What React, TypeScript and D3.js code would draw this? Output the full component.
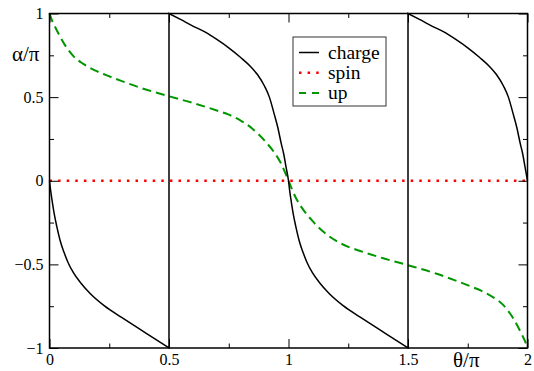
import React, { useEffect, useRef } from 'react';
import * as d3 from 'd3';

// Tick values
const xMajor = [0, 0.5, 1, 1.5, 2];
const xMinor = [0.25, 0.75, 1.25, 1.75];
const yMajor = [-1, -0.5, 0, 0.5, 1];
const yMinor = [-0.75, -0.25, 0.25, 0.75];

// charge (alpha/pi), drawn as three branches joined by the jumps at 0.5 and 1.5
const chargeX1 = [0, 0.005, 0.01, 0.02, 0.03, 0.045, 0.06, 0.078, 0.1, 0.13, 0.17, 0.23, 0.3, 0.4, 0.5];
const chargeY1 = [0, -0.06, -0.11, -0.2, -0.27, -0.36, -0.425, -0.49, -0.55, -0.61, -0.674, -0.748, -0.815, -0.908, -1];
const chargeX2 = [0.5, 0.55, 0.6, 0.65, 0.7, 0.75, 0.8, 0.84, 0.87, 0.9, 0.92, 0.94, 0.955, 0.97, 0.98, 0.99, 1.0,
  1.005, 1.01, 1.02, 1.03, 1.045, 1.06, 1.078, 1.1, 1.13, 1.17, 1.23, 1.3, 1.4, 1.5];
const chargeY2 = [1, 0.963, 0.925, 0.89, 0.845, 0.795, 0.737, 0.685, 0.635, 0.565, 0.5, 0.4, 0.32, 0.22, 0.16, 0.08, 0,
  -0.06, -0.11, -0.2, -0.27, -0.36, -0.425, -0.49, -0.55, -0.61, -0.674, -0.748, -0.815, -0.908, -1];
const chargeX3 = [1.5, 1.55, 1.6, 1.65, 1.7, 1.75, 1.8, 1.84, 1.87, 1.9, 1.92, 1.94, 1.955, 1.97, 1.98, 1.99, 2.0];
const chargeY3 = [1, 0.963, 0.925, 0.89, 0.845, 0.795, 0.737, 0.685, 0.635, 0.565, 0.5, 0.4, 0.32, 0.22, 0.16, 0.08, 0];

// spin
const spinX = [0, 2];
const spinY = [0, 0];

// up
const upX = [0, 0.01, 0.02, 0.045, 0.07, 0.1, 0.14, 0.19, 0.24, 0.3, 0.38, 0.5, 0.6, 0.7, 0.75, 0.8, 0.85, 0.9, 0.94, 0.97, 1.0,
  1.03, 1.06, 1.1, 1.15, 1.2, 1.25, 1.3, 1.4, 1.5, 1.62, 1.7, 1.76, 1.81, 1.86, 1.9, 1.93, 1.955, 1.98, 1.99, 2.0];
const upY = [1, 0.96, 0.93, 0.86, 0.8, 0.745, 0.7, 0.66, 0.63, 0.597, 0.556, 0.505, 0.465, 0.42, 0.395, 0.36, 0.31, 0.24, 0.17, 0.1, 0,
  -0.1, -0.17, -0.24, -0.31, -0.36, -0.395, -0.42, -0.465, -0.505, -0.556, -0.597, -0.63, -0.66, -0.7, -0.745, -0.8, -0.86, -0.93, -0.96, -1];

const legendNames = ['charge', 'spin', 'up'];

const W = 534;
const H = 371;
const FONT = "'Liberation Serif', serif";

const App = () => {
  const svgRef = useRef<SVGSVGElement>(null);

  useEffect(() => {
    const svg = d3.select(svgRef.current);
    svg.selectAll('*').remove();

    const left = 49.5, right = 527.5, top = 13.5, bottom = 348;

    const x = d3.scaleLinear().domain([0, 2]).range([left, right]);
    const y = d3.scaleLinear().domain([-1, 1]).range([bottom, top]);

    const line = d3.line<[number, number]>()
      .x(d => x(d[0]))
      .y(d => y(d[1]))
      .curve(d3.curveMonotoneX);

    // charge: join branches so the jumps become vertical strokes
    const branches = [[chargeX1, chargeY1], [chargeX2, chargeY2], [chargeX3, chargeY3]];
    const chargePath = branches
      .map(([xs, ys], i) => {
        const p = line(d3.zip(xs, ys) as [number, number][]) || '';
        return i === 0 ? p : 'L' + p.slice(1);
      })
      .join('');

    svg.append('path')
      .attr('d', line(d3.zip(spinX, spinY) as [number, number][]))
      .attr('fill', 'none')
      .attr('stroke', '#ff0000')
      .attr('stroke-width', 2.5)
      .attr('stroke-dasharray', '2.5,6.1');

    svg.append('path')
      .attr('d', line(d3.zip(upX, upY) as [number, number][]))
      .attr('fill', 'none')
      .attr('stroke', '#009600')
      .attr('stroke-width', 2)
      .attr('stroke-dasharray', '9,5');

    svg.append('path')
      .attr('d', chargePath)
      .attr('fill', 'none')
      .attr('stroke', '#000')
      .attr('stroke-width', 1.5);

    // ticks on all four sides, pointing inward
    const addAxis = (axis: any, tx: number, ty: number) => {
      const g = svg.append('g')
        .attr('transform', `translate(${tx},${ty})`)
        .call(axis);
      g.select('.domain').remove();
      g.selectAll('line').attr('stroke', '#000').attr('stroke-width', 1);
      g.attr('font-family', null).attr('font-size', null);
      g.selectAll('text')
        .attr('fill', '#000')
        .style('font-family', FONT)
        .style('font-size', '16px');
      return g;
    };

    addAxis(d3.axisBottom(x).tickValues(xMajor).tickSize(-9).tickPadding(5.6).tickFormat(d3.format('')), 0, bottom);
    addAxis(d3.axisBottom(x).tickValues(xMinor).tickSize(-4.5).tickFormat(() => ''), 0, bottom);
    addAxis(d3.axisTop(x).tickValues(xMajor).tickSize(-9).tickFormat(() => ''), 0, top);
    addAxis(d3.axisTop(x).tickValues(xMinor).tickSize(-4.5).tickFormat(() => ''), 0, top);
    addAxis(d3.axisLeft(y).tickValues(yMajor).tickSize(-9).tickPadding(6).tickFormat(d3.format('')), left, 0);
    addAxis(d3.axisLeft(y).tickValues(yMinor).tickSize(-4.5).tickFormat(() => ''), left, 0);
    addAxis(d3.axisRight(y).tickValues(yMajor).tickSize(-9).tickFormat(() => ''), right, 0);
    addAxis(d3.axisRight(y).tickValues(yMinor).tickSize(-4.5).tickFormat(() => ''), right, 0);

    // frame
    svg.append('rect')
      .attr('x', left)
      .attr('y', top)
      .attr('width', right - left)
      .attr('height', bottom - top)
      .attr('fill', 'none')
      .attr('stroke', '#000')
      .attr('stroke-width', 1.5);

    // axis titles
    svg.append('text')
      .attr('x', 12)
      .attr('y', 61)
      .style('font-family', FONT)
      .style('font-size', '21px')
      .text('α/π');

    svg.append('text')
      .attr('x', 453)
      .attr('y', 367)
      .style('font-family', FONT)
      .style('font-size', '21px')
      .text('θ/π');

    // legend
    const legend = svg.append('g');
    legend.append('rect')
      .attr('x', 293)
      .attr('y', 37)
      .attr('width', 93)
      .attr('height', 69)
      .attr('fill', '#fff')
      .attr('stroke', '#333')
      .attr('stroke-width', 1);

    const styles = [
      { stroke: '#000', width: 1.5, dash: null },
      { stroke: '#ff0000', width: 2.5, dash: '2.5,6.1' },
      { stroke: '#009600', width: 2, dash: '7,6' }
    ];

    legendNames.forEach((name, i) => {
      const ry = 52.5 + i * 20.3;
      legend.append('line')
        .attr('x1', 299)
        .attr('x2', 319)
        .attr('y1', ry)
        .attr('y2', ry)
        .attr('stroke', styles[i].stroke)
        .attr('stroke-width', styles[i].width)
        .attr('stroke-dasharray', styles[i].dash);
      legend.append('text')
        .attr('x', 328)
        .attr('y', ry + 6)
        .style('font-family', FONT)
        .style('font-size', '19.5px')
        .text(name);
    });
  }, []);

  return (
    <svg
      ref={svgRef}
      width={W}
      height={H}
      style={{ position: 'absolute', left: 0, top: 0, background: '#fff' }}
    />
  );
};

export default App;
